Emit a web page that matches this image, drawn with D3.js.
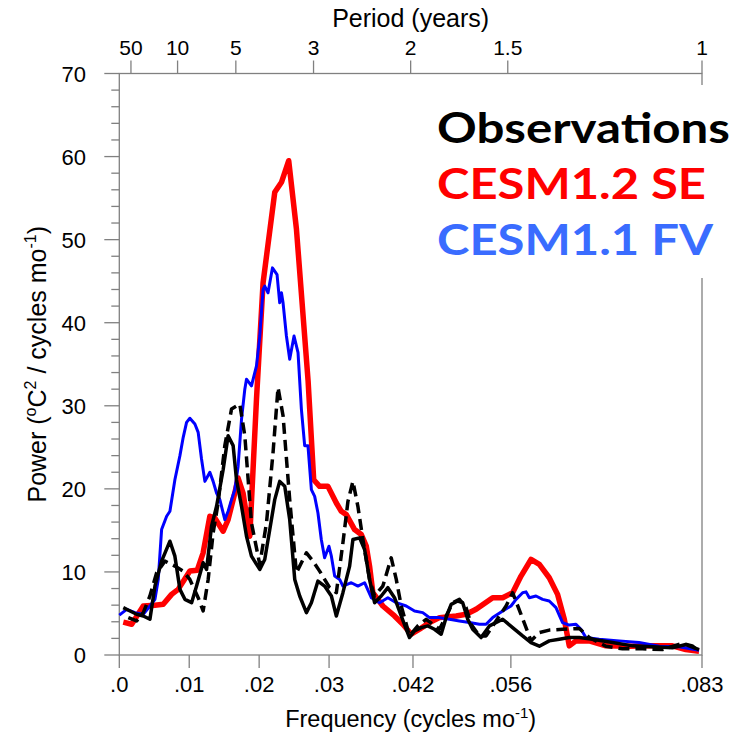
<!DOCTYPE html>
<html>
<head>
<meta charset="utf-8">
<script src="https://cdn.jsdelivr.net/npm/d3@7"></script>
<style>
  body { margin: 0; background: #fff; }
  svg text { font-family: "Liberation Sans", Arial, sans-serif; }
</style>
</head>
<body>
<div id="chart"></div>
<script>
// [frequency (cycles/mo), power]
var obsSolid = [[.00057,5.7],[.00153,5.3],[.00248,4.9],[.00343,4.7],[.00438,4.3],[.0051,8.3],[.00605,11.3],[.00724,13.7],[.00795,11.9],[.00867,7.9],[.00938,6.7],[.01034,6.3],[.01105,8.3],[.01199,11.1],[.01248,10.3],[.01319,15.5],[.01391,17.9],[.01485,22.3],[.01556,26.4],[.01628,25.2],[.01676,21.1],[.01748,17.9],[.01819,14.3],[.0189,11.9],[.02009,10.3],[.0208,11.5],[.02152,15.1],[.02223,18.7],[.02294,20.9],[.02366,20.3],[.02437,16.3],[.02509,9.1],[.0258,7.1],[.02676,5.1],[.02747,6.3],[.02841,8.9],[.02936,8.3],[.03033,7.1],[.03104,4.7],[.03198,7.5],[.03294,10.7],[.03341,13.9],[.03437,14.1],[.03508,12.7],[.03579,9.1],[.03651,6.3],[.03746,7.1],[.03841,8.1],[.03936,6.9],[.04032,4.7],[.04103,3.1],[.0415,2.1],[.04222,2.9],[.04318,3.3],[.04412,3.5],[.04507,3.1],[.04603,2.5],[.04674,4.5],[.04746,6.1],[.0484,6.5],[.04911,6.3],[.04983,4.3],[.05054,3.1],[.05174,2.1],[.05293,3.5],[.05483,4.3],[.05625,3.3],[.05768,2.3],[.05888,1.5],[.06007,1.06],[.06149,1.7],[.06292,1.9],[.06435,2.1],[.06578,2.1],[.06768,1.9],[.07053,1.5],[.07339,1.1],[.07624,1.0],[.0791,0.86],[.08101,1.26],[.08291,0.66]];

var obsDashed = [[.00129,4.5],[.00248,4.1],[.00343,5.1],[.00438,7.1],[.00534,9.9],[.00652,11.3],[.00795,10.7],[.00914,10.1],[.01009,9.1],[.01128,6.9],[.01199,5.3],[.01271,9.1],[.01342,14.7],[.01413,18.3],[.01509,25.2],[.01605,29.6],[.01723,30.2],[.01795,26.4],[.0189,15.9],[.02009,10.9],[.02105,15.9],[.02199,24.4],[.0227,32.2],[.02342,28.8],[.02437,18.7],[.02533,9.9],[.02676,12.3],[.0277,11.3],[.02865,10.1],[.03008,8.1],[.03104,7.5],[.03198,13.5],[.0327,18.5],[.03341,20.9],[.03412,17.9],[.03484,13.9],[.03579,9.1],[.03651,7.1],[.03769,8.3],[.03889,11.7],[.03961,9.1],[.04032,5.9],[.0415,2.3],[.04269,3.5],[.04389,4.3],[.04483,3.7],[.04579,3.1],[.04674,4.7],[.04769,6.3],[.04864,6.7],[.0496,5.7],[.05031,3.7],[.0515,2.3],[.05246,2.3],[.05388,4.1],[.05531,5.9],[.05625,7.5],[.05745,4.9],[.05888,1.7],[.06007,2.7],[.06149,3.0],[.06339,3.1],[.06578,3.2],[.0672,2.1],[.06959,1.06],[.07196,0.75],[.07481,0.75],[.07767,0.66],[.08053,1.4],[.08195,1.1],[.08291,0.46]];

var cesm12se = [[.00057,3.95],[.00177,3.7],[.00343,5.9],[.0051,6.0],[.00628,6.1],[.00748,7.3],[.00842,7.9],[.01009,10.1],[.01114,10.2],[.01199,12.3],[.01295,16.7],[.01366,16.5],[.01485,14.9],[.01556,16.3],[.01652,19.5],[.01699,21.3],[.0177,19.5],[.01866,14.3],[.01962,30.8],[.02056,44.8],[.02223,55.7],[.02319,56.9],[.02423,59.5],[.02533,51.3],[.027,33.0],[.02723,29.6],[.0278,21.1],[.02865,20.3],[.02984,20.3],[.03104,18.3],[.03175,17.3],[.03247,16.9],[.03365,15.1],[.03461,14.5],[.03532,13.1],[.03579,10.7],[.03626,7.5],[.03769,5.9],[.03936,4.7],[.04055,3.7],[.04175,2.5],[.04293,3.1],[.04436,3.9],[.04579,4.5],[.04817,4.7],[.0496,4.9],[.05103,5.5],[.0534,6.9],[.05483,6.9],[.05625,7.5],[.05745,9.5],[.05888,11.5],[.06007,10.9],[.06149,9.3],[.06268,7.3],[.06364,4.3],[.06435,1.1],[.06531,1.7],[.0672,1.7],[.06959,1.1],[.07292,1.06],[.07624,1.1],[.0791,1.1],[.08101,0.66],[.08291,0.46]];

var cesm11fv = [[0,4.8],[.00106,5.5],[.00224,5.1],[.00343,4.9],[.00438,5.9],[.0051,6.7],[.00557,9.1],[.00605,15.1],[.00677,16.7],[.00724,17.3],[.00795,21.1],[.00867,24],[.00914,26.2],[.00962,28],[.01009,28.5],[.01081,27.8],[.01128,26.8],[.01176,23.6],[.01224,20.9],[.01295,22],[.01342,20.9],[.01391,19.5],[.01438,18.7],[.01509,16.3],[.01556,17.3],[.01605,18.7],[.01652,19.9],[.01699,22.7],[.01748,28.4],[.01795,32],[.01819,33.2],[.0189,32.4],[.01962,34.8],[.02009,38.4],[.02056,44],[.0208,44.4],[.02127,43.6],[.0219,46.6],[.02256,45.8],[.02294,42.4],[.02319,43.6],[.02342,42.4],[.0239,38.4],[.02437,35.6],[.02499,38.4],[.02556,36.4],[.02604,29.6],[.02651,25.2],[.02698,25.2],[.02747,19.9],[.02794,19.1],[.02841,17.1],[.02889,13.9],[.02936,11.7],[.02998,13.1],[.03033,11.9],[.0308,9.5],[.03151,9.1],[.03198,8.3],[.03318,8.7],[.03412,8.3],[.03508,8.7],[.03604,6.9],[.03722,6.3],[.03841,6.9],[.03961,6.3],[.04103,5.9],[.04222,5.3],[.0434,5.1],[.04436,4.5],[.04579,4.5],[.04722,4.3],[.04864,4.1],[.05007,3.9],[.0515,3.7],[.05246,3.7],[.0534,4.5],[.05483,5.3],[.05602,5.9],[.05674,6.7],[.05768,7.5],[.05817,7.6],[.05864,6.9],[.05959,7.1],[.06054,6.7],[.06149,6.5],[.06245,5.7],[.06339,3.9],[.06435,3.6],[.06531,3.7],[.06602,3.1],[.06673,2.1],[.06863,1.9],[.07149,1.7],[.07434,1.5],[.0772,1.06],[.08005,1.0],[.08291,0.58]];

// axis ticks
var freqTicks = [0, .01, .02, .03, .042, .056, 1/12];
var freqLabels = [".0", ".01", ".02", ".03", ".042", ".056", ".083"];
var periodYears = [50, 10, 5, 3, 2, 1.5, 1];
var powerTicks = [0, 10, 20, 30, 40, 50, 60, 70];

var legendNames = ["Observations", "CESM1.2 SE", "CESM1.1 FV"];
var legendColors = ["#000000", "#ff0000", "#3a6cff"];

var W = 742, H = 735;
var svg = d3.select("#chart").append("svg")
    .attr("width", W)
    .attr("height", H);

var x = d3.scaleLinear().domain([0, 1/12]).range([119.3, 702]);
var y = d3.scaleLinear().domain([0, 70]).range([655, 73.5]);

var axisColor = "#808080";

// frame
svg.append("rect")
    .attr("x", x(0)).attr("y", y(70))
    .attr("width", x(1/12) - x(0))
    .attr("height", y(0) - y(70))
    .attr("fill", "none")
    .attr("stroke", axisColor)
    .attr("stroke-width", 1.3);

// left axis: major ticks outward, minor every 2
var minor = d3.range(0, 71, 2).filter(function(v) { return v % 10 !== 0; });
svg.selectAll(".ymin").data(minor).enter().append("line")
    .attr("x1", x(0) - 8).attr("x2", x(0))
    .attr("y1", function(d) { return y(d); })
    .attr("y2", function(d) { return y(d); })
    .attr("stroke", axisColor).attr("stroke-width", 1.3);

svg.selectAll(".ymaj").data(powerTicks).enter().append("line")
    .attr("x1", x(0) - 15).attr("x2", x(0))
    .attr("y1", function(d) { return y(d); })
    .attr("y2", function(d) { return y(d); })
    .attr("stroke", axisColor).attr("stroke-width", 1.3);

svg.selectAll(".ylab").data(powerTicks).enter().append("text")
    .attr("x", 86)
    .attr("y", function(d) { return y(d) + 8; })
    .attr("text-anchor", "end")
    .attr("font-size", 22)
    .text(function(d) { return d; });

// bottom axis
svg.selectAll(".xtick").data(freqTicks).enter().append("line")
    .attr("x1", function(d) { return x(d); })
    .attr("x2", function(d) { return x(d); })
    .attr("y1", y(0)).attr("y2", y(0) + 13)
    .attr("stroke", axisColor).attr("stroke-width", 1.3);

svg.selectAll(".xlab").data(freqTicks).enter().append("text")
    .attr("x", function(d) { return x(d); })
    .attr("y", 692)
    .attr("text-anchor", "middle")
    .attr("font-size", 22)
    .text(function(d, i) { return freqLabels[i]; });

// top axis: period in years -> frequency 1/(12*P)
svg.selectAll(".ptick").data(periodYears).enter().append("line")
    .attr("x1", function(d) { return x(1 / (12 * d)); })
    .attr("x2", function(d) { return x(1 / (12 * d)); })
    .attr("y1", y(70)).attr("y2", y(70) - 13)
    .attr("stroke", axisColor).attr("stroke-width", 1.3);

svg.selectAll(".plab").data(periodYears).enter().append("text")
    .attr("x", function(d) { return x(1 / (12 * d)); })
    .attr("y", 55)
    .attr("text-anchor", "middle")
    .attr("font-size", 21)
    .text(function(d) { return d; });

// axis titles
svg.append("text")
    .attr("x", (x(0) + x(1/12)) / 2).attr("y", 27)
    .attr("text-anchor", "middle")
    .attr("font-size", 25)
    .text("Period (years)");

var xt = svg.append("text")
    .attr("x", (x(0) + x(1/12)) / 2).attr("y", 727)
    .attr("text-anchor", "middle")
    .attr("font-size", 23.5);
xt.append("tspan").text("Frequency (cycles mo");
xt.append("tspan").attr("font-size", 15).attr("dy", -9).text("-1");
xt.append("tspan").attr("dy", 9).text(")");

var yt = svg.append("text")
    .attr("transform", "translate(46," + ((y(0) + y(70)) / 2) + ") rotate(-90)")
    .attr("text-anchor", "middle")
    .attr("font-size", 25);
yt.append("tspan").text("Power (");
yt.append("tspan").attr("font-size", 16).attr("dy", -10).text("o");
yt.append("tspan").attr("dy", 10).text("C");
yt.append("tspan").attr("font-size", 16).attr("dy", -10).text("2");
yt.append("tspan").attr("dy", 10).text(" / cycles mo");
yt.append("tspan").attr("font-size", 16).attr("dy", -10).text("-1");
yt.append("tspan").attr("dy", 10).text(")");

// series
var line = d3.line()
    .x(function(d) { return x(d[0]); })
    .y(function(d) { return y(d[1]); });

svg.append("path").datum(cesm12se)
    .attr("d", line).attr("fill", "none")
    .attr("stroke", "#ff0000").attr("stroke-width", 5.5)
    .attr("stroke-linejoin", "round");

svg.append("path").datum(cesm11fv)
    .attr("d", line).attr("fill", "none")
    .attr("stroke", "#0000ff").attr("stroke-width", 3)
    .attr("stroke-linejoin", "round");

svg.append("path").datum(obsSolid)
    .attr("d", line).attr("fill", "none")
    .attr("stroke", "#000").attr("stroke-width", 3.5)
    .attr("stroke-linejoin", "round");

svg.append("path").datum(obsDashed)
    .attr("d", line).attr("fill", "none")
    .attr("stroke", "#000").attr("stroke-width", 3.5)
    .attr("stroke-dasharray", "11,6")
    .attr("stroke-linejoin", "round");

// legend (white box hides frame behind it)
svg.append("rect")
    .attr("x", 430).attr("y", 85)
    .attr("width", W - 430).attr("height", 193)
    .attr("fill", "#fff");

var legendY = [143, 199, 255];
var legendW = [293, 269, 276];
svg.selectAll(".leg").data(legendNames).enter().append("text")
    .attr("x", 437)
    .attr("y", function(d, i) { return legendY[i]; })
    .attr("font-size", 42)
    .attr("font-weight", "bold")
    .style("font-family", "Lato, 'Open Sans', sans-serif")
    .attr("textLength", function(d, i) { return legendW[i]; })
    .attr("lengthAdjust", "spacingAndGlyphs")
    .attr("fill", function(d, i) { return legendColors[i]; })
    .text(function(d) { return d; });
</script>
</body>
</html>
